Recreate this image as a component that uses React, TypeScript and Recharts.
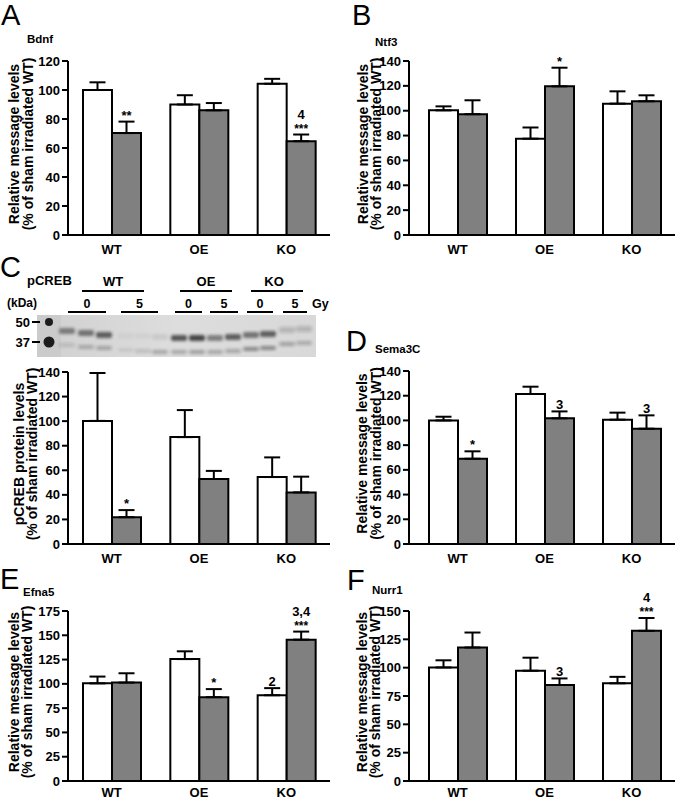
import React from "react";
import { BarChart, Bar, XAxis, YAxis, ErrorBar, LabelList } from "recharts";

// figure: irradiation effects on Bdnf / Ntf3 / pCREB / Sema3C / Efna5 / Nurr1

const FONT = '"Liberation Sans", Arial, Helvetica, sans-serif';
const GROUPS = ["WT", "OE", "KO"];
const WHITE = "#ffffff";
const GREY = "#808080";

// A — Bdnf
const BDNF_SHAM = [100, 90, 104.3];
const BDNF_SHAM_ERR = [5.3, 6.4, 3.4];
const BDNF_IRR = [70.3, 86, 64.7];
const BDNF_IRR_ERR = [7.9, 5, 4.6];
const BDNF_SHAM_MARKS = ["", "", ""];
const BDNF_IRR_MARKS = ["**", "", "4\n***"];

// B — Ntf3
const NTF3_SHAM = [100.3, 77.5, 105.7];
const NTF3_SHAM_ERR = [3.2, 9, 9.9];
const NTF3_IRR = [97.2, 119.6, 107.6];
const NTF3_IRR_ERR = [11.2, 15, 4.8];
const NTF3_SHAM_MARKS = ["", "", ""];
const NTF3_IRR_MARKS = ["", "*", ""];

// C — pCREB (western blot quantification)
const PCREB_SHAM = [100.2, 87, 54.5];
const PCREB_SHAM_ERR = [39, 22, 16];
const PCREB_IRR = [21.8, 52.9, 42];
const PCREB_IRR_ERR = [5.8, 6.6, 12.8];
const PCREB_SHAM_MARKS = ["", "", ""];
const PCREB_IRR_MARKS = ["*", "", ""];

// D — Sema3C
const SEMA_SHAM = [100, 121.4, 100.6];
const SEMA_SHAM_ERR = [3, 5.9, 5.7];
const SEMA_IRR = [69, 101.7, 93.3];
const SEMA_IRR_ERR = [6, 5.6, 10.8];
const SEMA_SHAM_MARKS = ["", "", ""];
const SEMA_IRR_MARKS = ["*", "3", "3"];

// E — Efna5
const EFNA_SHAM = [100.5, 125.5, 88.3];
const EFNA_SHAM_ERR = [7, 8, 7.3];
const EFNA_IRR = [101.3, 86.3, 145.5];
const EFNA_IRR_ERR = [9.6, 8.3, 8.3];
const EFNA_SHAM_MARKS = ["", "", "2"];
const EFNA_IRR_MARKS = ["", "*", "3,4\n***"];

// F — Nurr1
const NURR_SHAM = [100.2, 97.3, 86.2];
const NURR_SHAM_ERR = [6.3, 11.5, 5.7];
const NURR_IRR = [117.8, 84.7, 132.5];
const NURR_IRR_ERR = [13.2, 5.8, 11.3];
const NURR_SHAM_MARKS = ["", "", ""];
const NURR_IRR_MARKS = ["", "3", "4\n***"];

const TICKS_120 = [0, 20, 40, 60, 80, 100, 120];
const TICKS_140 = [0, 20, 40, 60, 80, 100, 120, 140];
const TICKS_175 = [0, 25, 50, 75, 100, 125, 150, 175];
const TICKS_150 = [0, 25, 50, 75, 100, 125, 150];

const MSG_LABEL = ["Relative message levels", "(% of sham irradiated WT)"];
const PROT_LABEL = ["pCREB protein levels", "(% of sham irradiated WT)"];

// blot lanes: WT 0Gy x3, WT 5Gy x3, OE 0/5 x2, KO 0/5 x2
const LANE_X = [67, 86, 104, 126, 143, 160, 179, 197, 215, 233, 251, 268, 287, 304];
const UPPER_DARK = [0.5, 0.55, 0.68, 0.04, 0.04, 0.08, 0.72, 0.8, 0.5, 0.68, 0.55, 0.68, 0.2, 0.2];
const LOWER_DARK = [0.15, 0.26, 0.28, 0.08, 0.16, 0.28, 0.28, 0.32, 0.28, 0.28, 0.42, 0.42, 0.3, 0.26];
const UPPER_Y = [331, 333, 335, 336, 336, 337, 338, 338, 338, 337, 335, 334, 330, 329];
const LOWER_Y = [345, 347, 348, 350, 351, 352, 352, 352, 352, 351, 349, 348, 344, 343];

const tickStyle = { fill: "#000", fontSize: 13, fontWeight: 700, fontFamily: FONT };
const axisStroke = { stroke: "#000", strokeWidth: 2 };

function makeMarks(marks: string[], means: number[], errs: number[]) {
  return (p: any) => {
    const i = p.index;
    const txt = marks[i];
    if (!txt) return null;
    const vb = p.viewBox || p;
    const h = Math.abs(vb.height);
    const y = Math.min(vb.y, vb.y + vb.height);
    const top = y - (errs[i] * h) / means[i];
    const cx = vb.x + vb.width / 2;
    const lines = txt.split("\n");
    return (
      <g>
        {lines.map((ln, k) => {
          const stars = /^\*+$/.test(ln);
          return (
            <text
              key={k}
              x={cx}
              y={top - 2 - (lines.length - 1 - k) * 14}
              textAnchor="middle"
              fontSize={stars && lines.length > 1 ? 12 : 13}
              fontWeight={700}
              fontFamily={FONT}
              fill="#000"
            >
              {ln}
            </text>
          );
        })}
      </g>
    );
  };
}

function YTitle({ viewBox, lines, dx }: any) {
  const { x, y, width, height } = viewBox;
  const ax = x + width;
  const cy = y + height / 2 - 4;
  return (
    <g>
      {lines.map((ln: string, k: number) => (
        <text
          key={k}
          x={ax + dx[k]}
          y={cy}
          transform={`rotate(-90 ${ax + dx[k]} ${cy})`}
          textAnchor="middle"
          dominantBaseline="central"
          fontSize={14}
          fontWeight={700}
          fontFamily={FONT}
          fill="#000"
        >
          {ln}
        </text>
      ))}
    </g>
  );
}

type PanelProps = {
  left: number; top: number; width: number; height: number;
  mTop: number; mRight: number; padLeft: number; xTick: number;
  yMax: number; ticks: number[];
  sham: number[]; shamErr: number[]; irr: number[]; irrErr: number[];
  shamMarks: string[]; irrMarks: string[];
  yLabel: string[]; dx: number[];
};

function Panel(p: PanelProps) {
  const data = GROUPS.map((g, i) => ({
    group: g,
    sham: p.sham[i],
    shamErr: [0, p.shamErr[i]],
    shamMark: p.shamMarks[i],
    irr: p.irr[i],
    irrErr: [0, p.irrErr[i]],
    irrMark: p.irrMarks[i],
  }));
  return (
    <div style={{ position: "absolute", left: p.left, top: p.top }}>
      <BarChart
        width={p.width}
        height={p.height}
        data={data}
        margin={{ top: p.mTop, right: p.mRight, bottom: 0, left: 0 }}
        barSize={29}
        barGap={0}
        style={{ fontFamily: FONT }}
      >
        <XAxis
          dataKey="group"
          tickLine={false}
          tickSize={p.xTick}
          height={26}
          axisLine={axisStroke}
          tick={tickStyle}
          padding={{ left: p.padLeft, right: 0 }}
          interval={0}
        />
        <YAxis
          width={68}
          domain={[0, p.yMax]}
          ticks={p.ticks}
          tickSize={6}
          tickLine={axisStroke}
          axisLine={axisStroke}
          tick={tickStyle}
          interval={0}
          label={{ content: (lp: any) => <YTitle viewBox={lp.viewBox} lines={p.yLabel} dx={p.dx} /> }}
        />
        <Bar dataKey="sham" fill={WHITE} stroke="#000" strokeWidth={2} isAnimationActive={false}>
          <ErrorBar dataKey="shamErr" width={8} stroke="#000" strokeWidth={2} direction="y" isAnimationActive={false} />
          <LabelList dataKey="shamMark" content={makeMarks(p.shamMarks, p.sham, p.shamErr)} />
        </Bar>
        <Bar dataKey="irr" fill={GREY} stroke="#000" strokeWidth={2} isAnimationActive={false}>
          <ErrorBar dataKey="irrErr" width={8} stroke="#000" strokeWidth={2} direction="y" isAnimationActive={false} />
          <LabelList dataKey="irrMark" content={makeMarks(p.irrMarks, p.irr, p.irrErr)} />
        </Bar>
      </BarChart>
    </div>
  );
}

const txt = (x: number, y: number, s: string, size: number, weight = 700, anchor: any = "start") => (
  <text x={x} y={y} fontSize={size} fontWeight={weight} fontFamily={FONT} textAnchor={anchor} fill="#000">
    {s}
  </text>
);

function Overlay() {
  const groupLines = [
    { label: "WT", x1: 82, x2: 144, tx: 113 },
    { label: "OE", x1: 180, x2: 232, tx: 206 },
    { label: "KO", x1: 251, x2: 303, tx: 274 },
  ];
  const doseLines = [
    { label: "0", x1: 68, x2: 106 },
    { label: "5", x1: 121, x2: 158 },
    { label: "0", x1: 175, x2: 202 },
    { label: "5", x1: 210, x2: 238 },
    { label: "0", x1: 247, x2: 273 },
    { label: "5", x1: 283, x2: 307 },
  ];
  return (
    <svg width={679} height={807} style={{ position: "absolute", left: 0, top: 0, pointerEvents: "none" }}>
      <defs>
        <filter id="blur" x="-50%" y="-100%" width="200%" height="300%">
          <feGaussianBlur stdDeviation="1.5" />
        </filter>
        <linearGradient id="blotbg" x1="0" y1="0" x2="1" y2="0">
          <stop offset="0" stopColor="#d0d0d0" />
          <stop offset="0.5" stopColor="#dddddd" />
          <stop offset="1" stopColor="#d8d8d8" />
        </linearGradient>
      </defs>

      {txt(1, 25, "A", 29, 400)}
      {txt(352, 25, "B", 29, 400)}
      {txt(0, 277, "C", 29, 400)}
      {txt(346, 351, "D", 29, 400)}
      {txt(0, 589, "E", 29, 400)}
      {txt(347, 590, "F", 29, 400)}

      {txt(27, 43, "Bdnf", 11.5)}
      {txt(375, 46, "Ntf3", 11.5)}
      {txt(375, 353, "Sema3C", 11.5)}
      {txt(23, 596, "Efna5", 11.5)}
      {txt(372, 594, "Nurr1", 11.5)}

      {/* C header */}
      {txt(27, 285, "pCREB", 13)}
      {groupLines.map((g) => (
        <g key={g.label}>
          {txt(g.tx, 286, g.label, 13, 700, "middle")}
          <line x1={g.x1} x2={g.x2} y1={291} y2={291} stroke="#000" strokeWidth={2} />
        </g>
      ))}
      {txt(7, 307, "(kDa)", 12)}
      {doseLines.map((d, i) => (
        <g key={i}>
          {txt((d.x1 + d.x2) / 2, 308, d.label, 12.5, 700, "middle")}
          <line x1={d.x1} x2={d.x2} y1={312} y2={312} stroke="#000" strokeWidth={2} />
        </g>
      ))}
      {txt(312, 308, "Gy", 12.5)}

      {/* blot */}
      <rect x={37} y={315} width={279} height={42} fill="url(#blotbg)" />
      <rect x={37} y={315} width={24} height={42} fill="#cbcbcb" />
      <circle cx={49} cy={322} r={4} fill="#1c1c1c" />
      <circle cx={49} cy={342} r={5.5} fill="#1c1c1c" />
      {LANE_X.map((x, i) => (
        <g key={i} filter="url(#blur)">
          <rect x={x - 8} y={UPPER_Y[i] - 3} width={16} height={6} rx={2} fill="#202020" opacity={UPPER_DARK[i]} />
          <rect x={x - 8} y={LOWER_Y[i] - 2} width={16} height={4} rx={2} fill="#202020" opacity={LOWER_DARK[i]} />
        </g>
      ))}
      {txt(30, 327, "50", 13, 700, "end")}
      {txt(30, 347, "37", 13, 700, "end")}
      <line x1={32} x2={40} y1={322} y2={322} stroke="#000" strokeWidth={2} />
      <line x1={32} x2={40} y1={342} y2={342} stroke="#000" strokeWidth={2} />
    </svg>
  );
}

export default function App() {
  return (
    <div style={{ position: "absolute", left: 0, top: 0, width: 679, height: 807, overflow: "hidden", background: "#fff", fontFamily: FONT }}>
      <Panel left={0} top={0} width={335} height={261} mTop={61} mRight={5} padLeft={0} xTick={8}
        yMax={120} ticks={TICKS_120}
        sham={BDNF_SHAM} shamErr={BDNF_SHAM_ERR} irr={BDNF_IRR} irrErr={BDNF_IRR_ERR}
        shamMarks={BDNF_SHAM_MARKS} irrMarks={BDNF_IRR_MARKS} yLabel={MSG_LABEL} dx={[-54, -40]} />
      <Panel left={341} top={0} width={336} height={261} mTop={61} mRight={2} padLeft={5} xTick={8}
        yMax={140} ticks={TICKS_140}
        sham={NTF3_SHAM} shamErr={NTF3_SHAM_ERR} irr={NTF3_IRR} irrErr={NTF3_IRR_ERR}
        shamMarks={NTF3_SHAM_MARKS} irrMarks={NTF3_IRR_MARKS} yLabel={MSG_LABEL} dx={[-46, -33]} />
      <Panel left={0} top={340} width={335} height={230} mTop={32} mRight={5} padLeft={0} xTick={8}
        yMax={140} ticks={TICKS_140}
        sham={PCREB_SHAM} shamErr={PCREB_SHAM_ERR} irr={PCREB_IRR} irrErr={PCREB_IRR_ERR}
        shamMarks={PCREB_SHAM_MARKS} irrMarks={PCREB_IRR_MARKS} yLabel={PROT_LABEL} dx={[-49, -36]} />
      <Panel left={341} top={340} width={336} height={230} mTop={31} mRight={2} padLeft={5} xTick={8}
        yMax={140} ticks={TICKS_140}
        sham={SEMA_SHAM} shamErr={SEMA_SHAM_ERR} irr={SEMA_IRR} irrErr={SEMA_IRR_ERR}
        shamMarks={SEMA_SHAM_MARKS} irrMarks={SEMA_IRR_MARKS} yLabel={MSG_LABEL} dx={[-47, -33]} />
      <Panel left={0} top={580} width={335} height={227} mTop={31} mRight={5} padLeft={0} xTick={5}
        yMax={175} ticks={TICKS_175}
        sham={EFNA_SHAM} shamErr={EFNA_SHAM_ERR} irr={EFNA_IRR} irrErr={EFNA_IRR_ERR}
        shamMarks={EFNA_SHAM_MARKS} irrMarks={EFNA_IRR_MARKS} yLabel={MSG_LABEL} dx={[-54, -41]} />
      <Panel left={341} top={580} width={336} height={227} mTop={31} mRight={2} padLeft={5} xTick={5}
        yMax={150} ticks={TICKS_150}
        sham={NURR_SHAM} shamErr={NURR_SHAM_ERR} irr={NURR_IRR} irrErr={NURR_IRR_ERR}
        shamMarks={NURR_SHAM_MARKS} irrMarks={NURR_IRR_MARKS} yLabel={MSG_LABEL} dx={[-47, -34]} />
      <Overlay />
    </div>
  );
}
